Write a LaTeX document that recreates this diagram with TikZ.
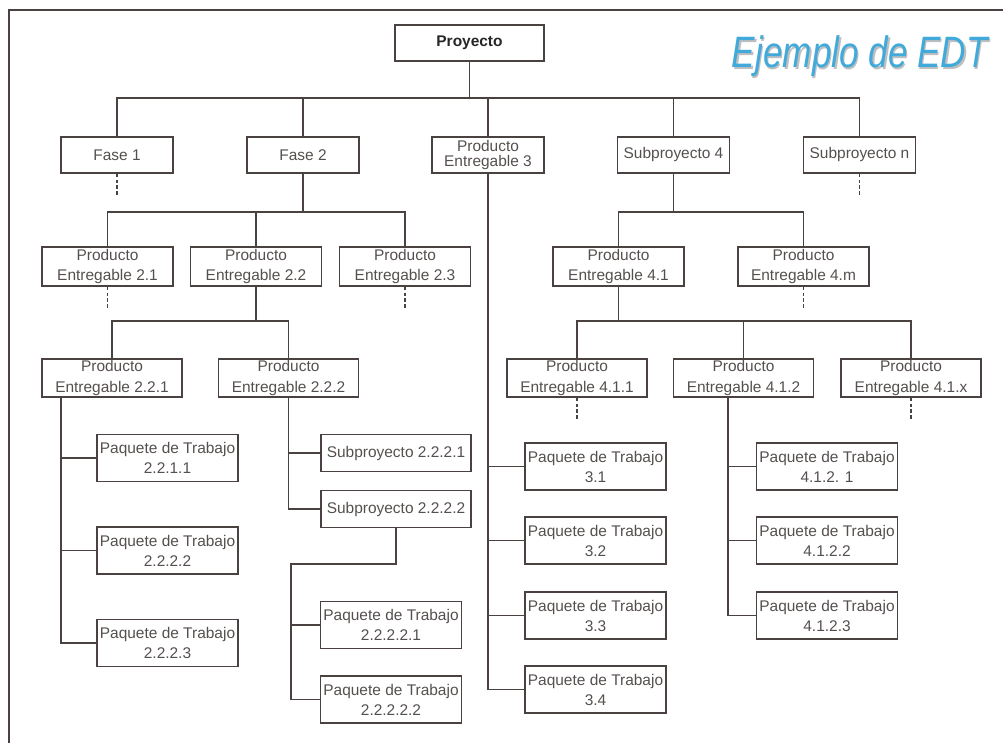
\documentclass[tikz,border=0pt]{standalone}
\usepackage{fontspec}
\setmainfont{Liberation Sans}
\usetikzlibrary{positioning}

\definecolor{edtline}{RGB}{74,66,64}
\definecolor{edttext}{RGB}{85,80,78}
\definecolor{edtblue}{RGB}{66,170,218}

\tikzset{
  box/.style={draw=edtline, line width=0.9pt, rectangle, align=center,
    text=edttext, inner sep=0.5pt, font=\fontsize{8.8}{11.4}\selectfont},
  rootbox/.style={box, minimum width=2.98cm, minimum height=0.72cm, font=\fontsize{8.8}{11}\selectfont\bfseries, text=black!85},
  lvlone/.style={box, minimum width=2.24cm, minimum height=0.72cm},
  lvltwo/.style={box, minimum width=2.62cm, minimum height=0.78cm},
  lvlthree/.style={box, minimum width=2.80cm, minimum height=0.76cm},
  workbox/.style={box, minimum width=2.82cm, minimum height=0.94cm},
  subbox/.style={box, minimum width=3.00cm, minimum height=0.74cm},
  link/.style={draw=edtline, line width=0.8pt},
  stub/.style={draw=edtline, line width=0.8pt, dash pattern=on 2pt off 1.3pt},
}

\begin{document}
\begin{tikzpicture}[x=0.02cm, y=-0.02cm]
\useasboundingbox (0,0) rectangle (1003,743);

% frame
\draw[edtline, line width=1pt] (1003,10) -- (9,10) -- (9,743);

% title
\node[anchor=base east, text=black!25, font=\fontsize{25}{25}\selectfont\itshape]
  (titleshadow) at (995.5,69.5) {\scalebox{0.8}[1]{Ejemplo de EDT}};
\node[anchor=base east, text=edtblue, font=\fontsize{25}{25}\selectfont\itshape]
  (title) at (994,68) {\scalebox{0.8}[1]{Ejemplo de EDT}};

% boxes
\node[rootbox] (proy) at (469.5,43) {Proyecto};

\node[lvlone] (fase1) at (117,155) {Fase 1};
\node[lvlone] (fase2) at (303,155) {Fase 2};
\node[lvlone, font=\fontsize{8.8}{9}\selectfont] (pe3) at (488,155) {Producto\\Entregable 3};
\node[lvlone] (sub4) at (673.5,155) {Subproyecto 4};
\node[lvlone] (subn) at (859.5,155) {Subproyecto n};

\node[lvltwo] (pe21) at (107.5,266.5) {Producto\\Entregable 2.1};
\node[lvltwo] (pe22) at (256,266.5) {Producto\\Entregable 2.2};
\node[lvltwo] (pe23) at (405,266.5) {Producto\\Entregable 2.3};
\node[lvltwo] (pe41) at (618.5,266.5) {Producto\\Entregable 4.1};
\node[lvltwo] (pe4m) at (803.5,266.5) {Producto\\Entregable 4.m};

\node[lvlthree] (pe221) at (112,378) {Producto\\Entregable 2.2.1};
\node[lvlthree] (pe222) at (288.5,378) {Producto\\Entregable 2.2.2};
\node[lvlthree] (pe411) at (577,378) {Producto\\Entregable 4.1.1};
\node[lvlthree] (pe412) at (743.5,378) {Producto\\Entregable 4.1.2};
\node[lvlthree] (pe41x) at (911,378) {Producto\\Entregable 4.1.x};

\node[workbox] (pt2211) at (167.5,458) {Paquete de Trabajo\\2.2.1.1};
\node[workbox] (pt2222) at (167.5,550.5) {Paquete de Trabajo\\2.2.2.2};
\node[workbox] (pt2223) at (167.5,643) {Paquete de Trabajo\\2.2.2.3};

\node[subbox] (sub2221) at (396,453) {Subproyecto 2.2.2.1};
\node[subbox] (sub2222) at (396,509) {Subproyecto 2.2.2.2};

\node[workbox] (pt22221) at (391,625) {Paquete de Trabajo\\2.2.2.2.1};
\node[workbox] (pt22222) at (391,699.5) {Paquete de Trabajo\\2.2.2.2.2};

\node[workbox] (pt31) at (595.5,466.5) {Paquete de Trabajo\\3.1};
\node[workbox] (pt32) at (595.5,540.5) {Paquete de Trabajo\\3.2};
\node[workbox] (pt33) at (595.5,615.5) {Paquete de Trabajo\\3.3};
\node[workbox] (pt34) at (595.5,689.5) {Paquete de Trabajo\\3.4};

\node[workbox] (pt4121) at (827,466.5) {Paquete de Trabajo\\4.1.2. 1};
\node[workbox] (pt4122) at (827,540.5) {Paquete de Trabajo\\4.1.2.2};
\node[workbox] (pt4123) at (827,615.5) {Paquete de Trabajo\\4.1.2.3};

% tree lines
\foreach \n in {fase1,fase2,pe3,sub4,subn}
  \path[link] (proy.south) -- (proy.south |- 0,98) -| (\n.north);
\foreach \n in {pe21,pe22,pe23}
  \path[link] (fase2.south) -- (fase2.south |- 0,212) -| (\n.north);
\foreach \n in {pe41,pe4m}
  \path[link] (sub4.south) -- (sub4.south |- 0,212) -| (\n.north);
\foreach \n in {pe221,pe222}
  \path[link] (pe22.south) -- (pe22.south |- 0,321) -| (\n.north);
\foreach \n in {pe411,pe412,pe41x}
  \path[link] (pe41.south) -- (pe41.south |- 0,321) -| (\n.north);

\foreach \n in {pt2211,pt2222,pt2223}
  \path[link] (61,0 |- pe221.south) |- (\n.west);
\foreach \n in {sub2221,sub2222}
  \path[link] (pe222.south) |- (\n.west);
\coordinate (j2222) at (291,564);
\path[link] (sub2222.south) |- (j2222) |- (pt22221.west);
\path[link] (j2222) |- (pt22222.west);
\foreach \n in {pt31,pt32,pt33,pt34}
  \path[link] (pe3.south) |- (\n.west);
\foreach \n in {pt4121,pt4122,pt4123}
  \path[link] (728,0 |- pe412.south) |- (\n.west);

% open branches
\foreach \n in {fase1,subn,pe21,pe23,pe4m,pe411,pe41x}
  \path[stub] (\n.south) -- ++(0,21);

\end{tikzpicture}
\end{document}
